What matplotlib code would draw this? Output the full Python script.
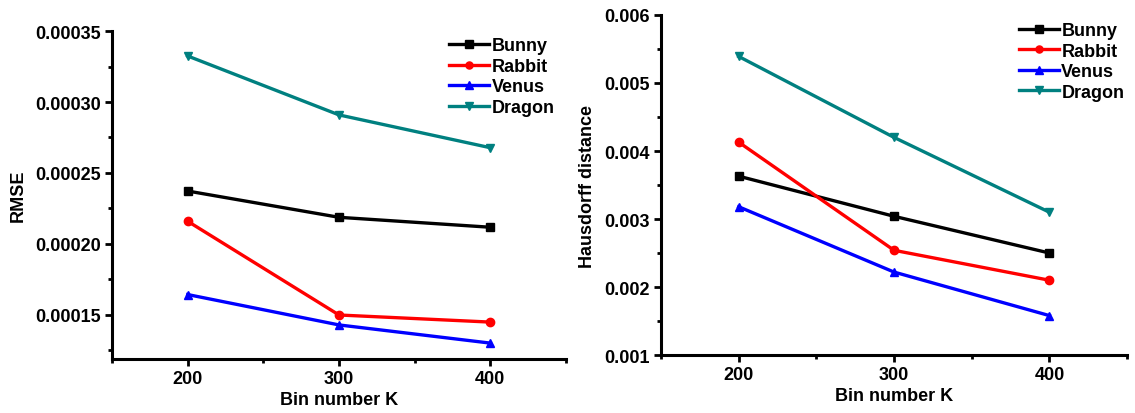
import matplotlib
matplotlib.use("Agg")
import matplotlib.pyplot as plt
from matplotlib.ticker import MultipleLocator, FormatStrFormatter

plt.rcParams['font.family'] = ['Liberation Sans', 'DejaVu Sans']
plt.rcParams['font.weight'] = 'bold'

bins = [200, 300, 400]
models = ["Bunny", "Rabbit", "Venus", "Dragon"]

rmse_bunny = [0.0002373, 0.0002188, 0.0002118]
rmse_rabbit = [0.0002160, 0.0001500, 0.0001450]
rmse_venus = [0.0001644, 0.0001430, 0.0001302]
rmse_dragon = [0.0003324, 0.0002909, 0.0002678]

haus_bunny = [0.00363, 0.00304, 0.00250]
haus_rabbit = [0.00413, 0.00254, 0.00210]
haus_venus = [0.00318, 0.00222, 0.00158]
haus_dragon = [0.00539, 0.00420, 0.00310]

colors = ["black", "red", "blue", "#008080"]
markers = ["s", "o", "^", "v"]
FS = 13


def style_axis(ax, major, minor, fmt, leg_anchor):
    for side in ("top", "right"):
        ax.spines[side].set_visible(False)
    for side in ("left", "bottom"):
        ax.spines[side].set_linewidth(2.2)
    ax.set_xlim(150, 450)
    ax.xaxis.set_major_locator(MultipleLocator(100))
    ax.xaxis.set_minor_locator(MultipleLocator(50))
    ax.yaxis.set_major_locator(MultipleLocator(major))
    ax.yaxis.set_minor_locator(MultipleLocator(minor))
    ax.yaxis.set_major_formatter(FormatStrFormatter(fmt))
    ax.tick_params(which="major", direction="out", length=5, width=2,
                   labelsize=FS, pad=3)
    ax.tick_params(which="minor", direction="out", length=3, width=2)
    for lbl in ax.get_xticklabels() + ax.get_yticklabels():
        lbl.set_fontweight("bold")
    ax.set_xlabel("Bin number K", fontsize=FS, fontweight="bold", labelpad=3)
    leg = ax.legend(loc="upper right", frameon=False, fontsize=FS,
                    handlelength=2.2, handletextpad=0.15, labelspacing=0.2,
                    borderaxespad=0.0, markerscale=0.85,
                    bbox_to_anchor=leg_anchor, bbox_transform=fig.transFigure)
    for t in leg.get_texts():
        t.set_fontweight("bold")


fig = plt.figure(figsize=(11.35, 4.14), dpi=100)
ax1 = fig.add_axes([0.0987, 0.1304, 0.40, 0.7923])
ax2 = fig.add_axes([0.5824, 0.1400, 0.4106, 0.8214])

for vals, name, c, m in zip([rmse_bunny, rmse_rabbit, rmse_venus, rmse_dragon],
                            models, colors, markers):
    ax1.plot(bins, vals, color=c, marker=m, lw=2.4, ms=6, label=name)
ax1.set_ylim(0.000119, 0.00035)
ax1.set_ylabel("RMSE", fontsize=FS, fontweight="bold", labelpad=6)
style_axis(ax1, 0.00005, 0.000025, "%.5f", (0.495, 0.925))

for vals, name, c, m in zip([haus_bunny, haus_rabbit, haus_venus, haus_dragon],
                            models, colors, markers):
    ax2.plot(bins, vals, color=c, marker=m, lw=2.4, ms=6, label=name)
ax2.set_ylim(0.001, 0.006)
ax2.set_ylabel("Hausdorff distance", fontsize=FS, fontweight="bold", labelpad=6)
style_axis(ax2, 0.001, 0.0005, "%.3f", (0.997, 0.962))

fig.savefig("out.png", dpi=100)
